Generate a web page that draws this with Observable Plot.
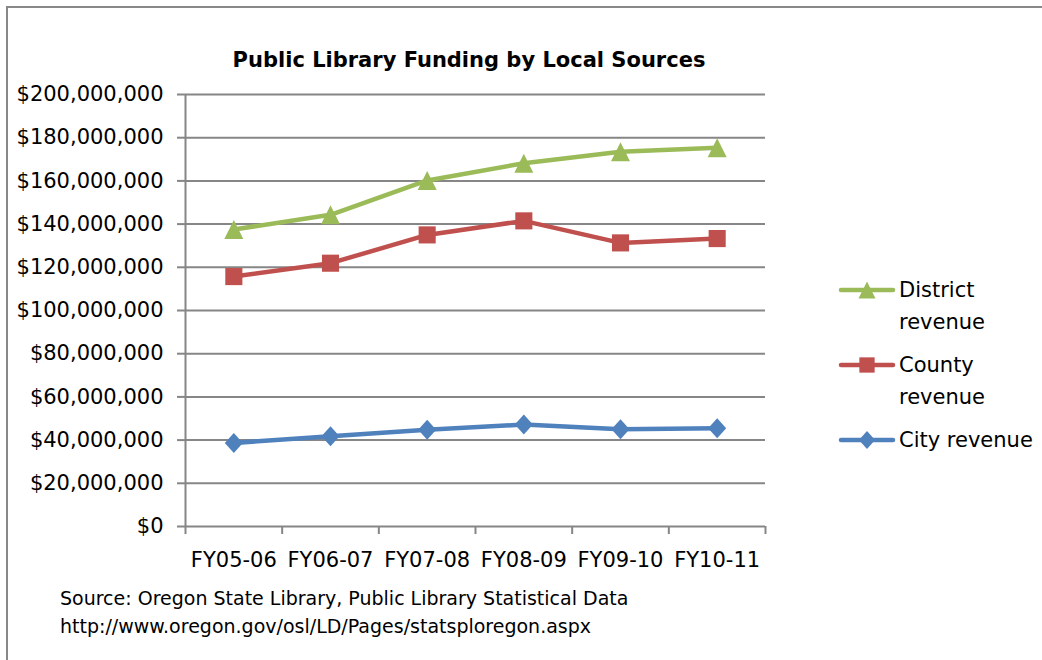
<!DOCTYPE html>
<html><head><meta charset="utf-8">
<script src="https://cdn.jsdelivr.net/npm/d3@7"></script>
<script src="https://cdn.jsdelivr.net/npm/@observablehq/plot@0.6"></script>
<style>
body{margin:0;background:#fff;font-family:"DejaVu Sans",sans-serif;color:#000;}
#wrap{position:relative;width:1042px;height:660px;overflow:hidden;background:#fff;}
#frame{position:absolute;left:6px;top:6px;width:1040px;height:660px;border-left:2px solid #888;border-top:2px solid #888;}
#chart{position:absolute;left:0;top:0;}
#title{position:absolute;left:0;width:938px;top:50px;text-align:center;font-weight:bold;font-size:21px;line-height:21px;}
#legend{position:absolute;left:0;top:0;width:1042px;}
.entry{position:absolute;left:838px;display:flex;align-items:flex-start;white-space:nowrap;}
.entry svg{display:block;margin-top:4px;}
.entry .lab{margin-left:3px;font-size:21px;line-height:32px;}
#caption{position:absolute;left:60px;top:584px;font-size:19px;line-height:28px;white-space:nowrap;}
</style></head><body>
<div id="wrap">
 <div id="frame"></div>
 <div id="chart"></div>
 <div id="title">Public Library Funding by Local Sources</div>
 <div id="legend"></div>
 <div id="caption">Source: Oregon State Library, Public Library Statistical Data<br>http://www.oregon.gov/osl/LD/Pages/statsploregon.aspx</div>
</div>
<script>
const categories = ["FY05-06", "FY06-07", "FY07-08", "FY08-09", "FY09-10", "FY10-11"];
const districtRevenue = [137.5e6, 144.3e6, 160.2e6, 168.2e6, 173.5e6, 175.3e6];
const countyRevenue = [115.7e6, 121.9e6, 135.0e6, 141.5e6, 131.3e6, 133.3e6];
const cityRevenue = [38.7e6, 41.8e6, 44.8e6, 47.2e6, 45.0e6, 45.5e6];
const seriesNames = ["District revenue", "County revenue", "City revenue"];
const legendLines = [["District", "revenue"], ["County", "revenue"], ["City revenue"]];
const seriesColors = ["#9BBB59", "#C0504D", "#4F81BD"];
const yTicks = [0, 20e6, 40e6, 60e6, 80e6, 100e6, 120e6, 140e6, 160e6, 180e6, 200e6];

const gridColor = "#868686";

// marker shapes (Excel-like)
const triangleSym = {draw(ctx, size) { const r = Math.sqrt(size / Math.PI); ctx.moveTo(0, -r); ctx.lineTo(r, r); ctx.lineTo(-r, r); ctx.closePath(); }};
const squareSym = {draw(ctx, size) { const r = Math.sqrt(size / Math.PI) * 0.9; ctx.rect(-r, -r, 2 * r, 2 * r); }};
const diamondSym = {draw(ctx, size) { const r = Math.sqrt(size / Math.PI); ctx.moveTo(0, -r * 1.05); ctx.lineTo(r * 0.95, 0); ctx.lineTo(0, r * 1.05); ctx.lineTo(-r * 0.95, 0); ctx.closePath(); }};
const symbols = [triangleSym, squareSym, diamondSym];

const seriesValues = [districtRevenue, countyRevenue, cityRevenue];
const rows = [];
seriesNames.forEach((name, s) => seriesValues[s].forEach((v, i) => rows.push({series: name, pos: i + 0.5, value: v})));

const fmt = d3.format(",");
const marks = [
  Plot.gridY(yTicks, {stroke: gridColor, strokeOpacity: 1, strokeWidth: 2}),
  Plot.ruleX([0], {stroke: gridColor, strokeWidth: 2}),
  Plot.axisY(yTicks, {label: null, tickSize: 8, tickPadding: 14, stroke: gridColor, strokeWidth: 2, tickFormat: d => "$" + fmt(d)}),
  Plot.axisX(d3.range(0, categories.length + 1), {label: null, tickSize: 8, stroke: gridColor, strokeWidth: 2, tickFormat: () => ""}),
  Plot.axisX(categories.map((c, i) => i + 0.5), {label: null, tickSize: 0, tickPadding: 26, tickFormat: d => categories[Math.floor(d)]})
];
seriesNames.forEach((name, s) => {
  marks.push(Plot.line(rows, {filter: d => d.series === name, x: "pos", y: "value", stroke: seriesColors[s], strokeWidth: 4.5, strokeLinejoin: "round"}));
});
seriesNames.forEach((name, s) => {
  marks.push(Plot.dot(rows, {filter: d => d.series === name, x: "pos", y: "value", r: 9.5, symbol: symbols[s], fill: seriesColors[s], stroke: "none"}));
});

const chart = Plot.plot({
  width: 800,
  height: 580,
  marginLeft: 185,
  marginRight: 35,
  marginTop: 94,
  marginBottom: 54,
  style: {fontFamily: "DejaVu Sans, sans-serif", fontSize: "21px", background: "transparent", color: "#000", overflow: "visible"},
  x: {type: "linear", domain: [0, categories.length], axis: null, label: null},
  y: {domain: [0, 200e6], axis: null, label: null},
  marks
});
document.getElementById("chart").appendChild(chart);

// legend
const legend = document.getElementById("legend");
const tops = [274, 349, 424];
seriesNames.forEach((name, s) => {
  const e = document.createElement("div");
  e.className = "entry";
  e.style.top = tops[s] + "px";
  const svg = d3.create("svg").attr("width", 58).attr("height", 24);
  svg.append("line").attr("x1", 3).attr("x2", 55).attr("y1", 12).attr("y2", 12)
    .attr("stroke", seriesColors[s]).attr("stroke-width", 4.5).attr("stroke-linecap", "round");
  const p = d3.path();
  symbols[s].draw(p, 8.5 * 8.5 * Math.PI);
  svg.append("path").attr("d", p.toString()).attr("transform", "translate(29,12)").attr("fill", seriesColors[s]);
  e.appendChild(svg.node());
  const lab = document.createElement("div");
  lab.className = "lab";
  lab.innerHTML = legendLines[s].join("<br>");
  e.appendChild(lab);
  legend.appendChild(e);
});
</script>
</body></html>
